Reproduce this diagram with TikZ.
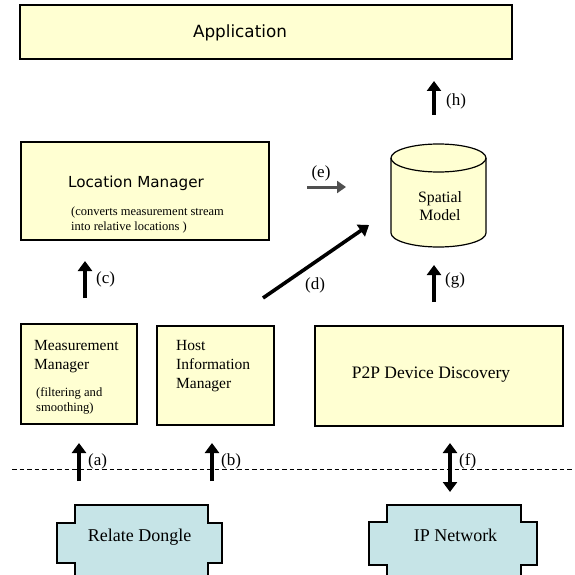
\documentclass[tikz,border=0pt]{standalone}
\usepackage{fontspec}
\setmainfont{Liberation Serif}
\newfontfamily\sansf{DejaVu Sans}
\usetikzlibrary{arrows.meta}
\definecolor{boxyellow}{HTML}{FFFFD2}
\definecolor{boxcyan}{HTML}{C6E4E7}
\definecolor{arrgray}{HTML}{505050}
\tikzset{
  box/.style={draw=black, line width=1.2pt, fill=boxyellow},
  fat/.style={line width=3.6pt, -{Triangle[width=14pt,length=10pt]}},
  fatboth/.style={line width=3.6pt, {Triangle[width=14pt,length=10pt]}-{Triangle[width=14pt,length=10pt]}},
  lbl/.style={inner sep=0pt, font=\fontsize{17}{20}\selectfont},
  txt/.style={inner sep=0pt, align=left},
}
\begin{document}
\begin{tikzpicture}[x=1pt,y=-1pt]
\useasboundingbox (0,0) rectangle (574,575);
% boxes
\draw[box] (20,5) rectangle (512,59);
\node[inner sep=0pt, font=\sansf\fontsize{16.8}{20}\selectfont] (app) at (240,33) {Application};

\draw[box] (21,142) rectangle (269,240);
\node[inner sep=0pt, font=\sansf\fontsize{15.2}{19}\selectfont] (locm) at (136,183) {Location Manager};
\node[txt, anchor=west, font=\fontsize{12.5}{15}\selectfont] (locsub) at (71,219.5) {(converts measurement stream\\into relative locations )};

\draw[box] (21,324) rectangle (137,424);
\node[txt, anchor=west, font=\fontsize{15.5}{19}\selectfont] (meas) at (34,356.5) {Measurement\\Manager};
\node[txt, anchor=west, font=\fontsize{12.6}{15}\selectfont] (meassub) at (36,400.5) {(filtering and\\smoothing)};

\draw[box] (157,326) rectangle (274,425);
\node[txt, anchor=west, font=\fontsize{15.5}{19}\selectfont] (host) at (176,366) {Host\\Information\\Manager};

\draw[box] (315,326) rectangle (563,426);
\node[inner sep=0pt, font=\fontsize{17.5}{20}\selectfont] (p2p) at (431,375) {P2P Device Discovery};

% cylinder
\fill[boxyellow] (391,158) -- (391,233) arc[start angle=180, end angle=0, x radius=47.5, y radius=14] -- (486,158) arc[start angle=0, end angle=-180, x radius=47.5, y radius=14] -- cycle;
\draw[line width=1.2pt] (391,158) -- (391,233) arc[start angle=180, end angle=0, x radius=47.5, y radius=14] -- (486,158);
\draw[line width=1.2pt] (438.5,158) ellipse[x radius=47.5, y radius=14];
\node[txt, align=center, font=\fontsize{15.8}{18}\selectfont] (spatial) at (440,206) {Spatial\\Model};

% network shapes
\fill[boxcyan] (75,576) -- (75,563) -- (57,563) -- (57,523) -- (75,523) -- (75,505) -- (208,505) -- (208,523) -- (222,523) -- (222,563) -- (208,563) -- (208,576) -- cycle;
\draw[line width=1.2pt] (75,576) -- (75,563) -- (57,563) -- (57,523) -- (75,523) -- (75,505) -- (208,505) -- (208,523) -- (222,523) -- (222,563) -- (208,563) -- (208,576);
\node[inner sep=0pt, font=\fontsize{18}{20}\selectfont] (dongle) at (139.5,537) {Relate Dongle};

\fill[boxcyan] (387,576) -- (387,565) -- (369,565) -- (369,522) -- (387,522) -- (387,505) -- (521,505) -- (521,522) -- (537,522) -- (537,565) -- (521,565) -- (521,576) -- cycle;
\draw[line width=1.2pt] (387,576) -- (387,565) -- (369,565) -- (369,522) -- (387,522) -- (387,505) -- (521,505) -- (521,522) -- (537,522) -- (537,565) -- (521,565) -- (521,576);
\node[inner sep=0pt, font=\fontsize{18}{20}\selectfont] (ipnet) at (455.5,535) {IP Network};

% dashed boundary
\coordinate (dl) at (12,469);
\coordinate (dr) at (574,469);
\draw[line width=1pt, dash pattern=on 4.5pt off 3pt] (dl) -- (dr);

% arrows
\coordinate (a0) at (79,481); \coordinate (a1) at (79,443);
\draw[fat] (a0) -- (a1);
\node[lbl, anchor=west] (la) at (88,461) {(a)};
\coordinate (b0) at (212,481); \coordinate (b1) at (212,443);
\draw[fat] (b0) -- (b1);
\node[lbl, anchor=west] (lb) at (221,461) {(b)};
\coordinate (f0) at (450,492); \coordinate (f1) at (450,443);
\draw[fatboth] (f0) -- (f1);
\node[lbl, anchor=west] (lf) at (459,461) {(f)};

\coordinate (c0) at (85,298); \coordinate (c1) at (85,261);
\draw[fat] (c0) -- (c1);
\node[lbl, anchor=west] (lc) at (96,279) {(c)};

\coordinate (g0) at (434,302); \coordinate (g1) at (434,265);
\draw[fat] (g0) -- (g1);
\node[lbl, anchor=west] (lg) at (445,280) {(g)};

\coordinate (h0) at (434,115); \coordinate (h1) at (434,81);
\draw[fat] (h0) -- (h1);
\node[lbl, anchor=west] (lh) at (446,101) {(h)};

\coordinate (d0) at (263,298); \coordinate (d1) at (369,225);
\draw[fat] (d0) -- (d1);
\node[lbl] (ld) at (315,285) {(d)};

\coordinate (e0) at (307,187); \coordinate (e1) at (346,187);
\draw[arrgray, line width=3pt, -{Triangle[width=12pt,length=9pt]}] (e0) -- (e1);
\node[lbl] (le) at (321,173) {(e)};
\end{tikzpicture}
\end{document}
